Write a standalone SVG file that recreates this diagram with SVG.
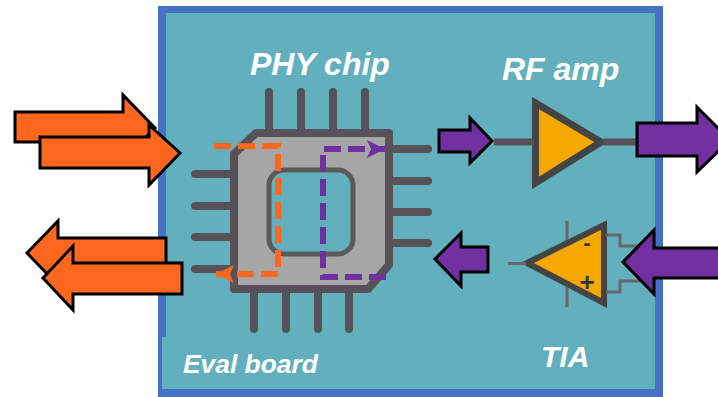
<svg xmlns="http://www.w3.org/2000/svg" width="718" height="397" viewBox="0 0 718 397">
<style>
.lbl{font-family:"Liberation Sans",Arial,sans-serif;font-weight:bold;font-style:italic;fill:#fff}
.pin{stroke:#575259;stroke-width:8;stroke-linecap:round;fill:none}
.or{fill:#FF671F;stroke:#000;stroke-width:3;stroke-linejoin:miter}
.pu{fill:#7030A0;stroke:#000;stroke-width:3;stroke-linejoin:miter}
.wire{stroke:#66666c;stroke-width:3;fill:none}
.tri{fill:#F5A800;stroke:#444;stroke-linejoin:miter}
.dash{fill:none;stroke-width:6;stroke-dasharray:17 7}
</style>
<defs>
<marker id="hp" markerUnits="userSpaceOnUse" markerWidth="20" markerHeight="20" refX="18" refY="9" orient="auto"><path d="M0 0L18 9L0 18L4 9Z" fill="#7030A0"/></marker>
<marker id="ho" markerUnits="userSpaceOnUse" markerWidth="20" markerHeight="20" refX="18" refY="9" orient="auto"><path d="M0 0L18 9L0 18L4 9Z" fill="#FF671F"/></marker>
</defs>
<g id="board">
<rect x="158" y="6" width="505" height="391" fill="#4472C4"/>
<rect x="166" y="13" width="489" height="376" fill="#62B0BD"/>
<rect x="162" y="337" width="10" height="52" fill="#62B0BD"/>
<text class="lbl" x="183" y="373" font-size="26.4">Eval board</text>
</g>
<g id="phy-chip">
<path class="pin" d="M269 92V130M301 92V130M333 92V130M365 92V130M254 292V329M286 292V329M318 292V329M349 292V329M195 174H232M195 206H232M195 237H232M195 269H232M392 149H428M392 181H428M392 212H428M392 243H428"/>
<path d="M256 133H389V265L368 289H234V154Z" fill="#A6A6A6" stroke="#575259" stroke-width="8" stroke-linejoin="round"/>
<rect x="269" y="170" width="84" height="84" rx="15" fill="#62B0BD" stroke="#5a5a5a" stroke-width="5"/>
<text class="lbl" x="250" y="75" font-size="32">PHY chip</text>
</g>
<g id="rf-amp">
<path class="tri" stroke-width="7" d="M535.500 103V183L601 142Z"/>
<text class="lbl" x="502" y="80" font-size="32">RF amp</text>
</g>
<g id="tia">
<path d="M567 221V307" class="wire"/>
<path class="tri" stroke-width="6" d="M604 225V303L527 263Z"/>
<text x="587" y="250" font-family="Liberation Sans,Arial,sans-serif" font-weight="bold" font-size="22" text-anchor="middle" fill="#333">-</text>
<text x="587" y="291" font-family="Liberation Sans,Arial,sans-serif" font-weight="bold" font-size="26" text-anchor="middle" fill="#333">+</text>
<text class="lbl" x="541" y="367" font-size="30">TIA</text>
</g>
<g id="connectors">
<path d="M494 142H534M603 142H642" stroke="#575259" stroke-width="7" fill="none"/>
<path d="M508 263.500H526" class="wire"/>
<path d="M606 235H620V246H642M606 292H620V281H642" class="wire"/>
<path class="dash" d="M214 146H278V274H216" stroke="#FF671F" marker-end="url(#ho)"/>
<path class="dash" d="M386 277H323V149H385" stroke="#7030A0" marker-end="url(#hp)"/>
<path class="or" d="M15 112H123V95L155 128L123 160V142H15Z"/>
<path class="or" d="M40 137H149V125L180 153L149 185V168H40Z"/>
<path class="or" d="M166 238H58V221L27 253L58 285V268H166Z"/>
<path class="or" d="M182 263H73V246L43 278L73 310V294H182Z"/>
<path class="pu" d="M439 130H470V118L492 141L470 163V152H439Z"/>
<path class="pu" d="M637 123H697V107L730 140L697 172V156H637Z"/>
<path class="pu" d="M488 247H461V233L435 259L461 286V272H488Z"/>
<path class="pu" d="M730 248H654V230L623 262L654 294V278H730Z"/>
</g>
</svg>
